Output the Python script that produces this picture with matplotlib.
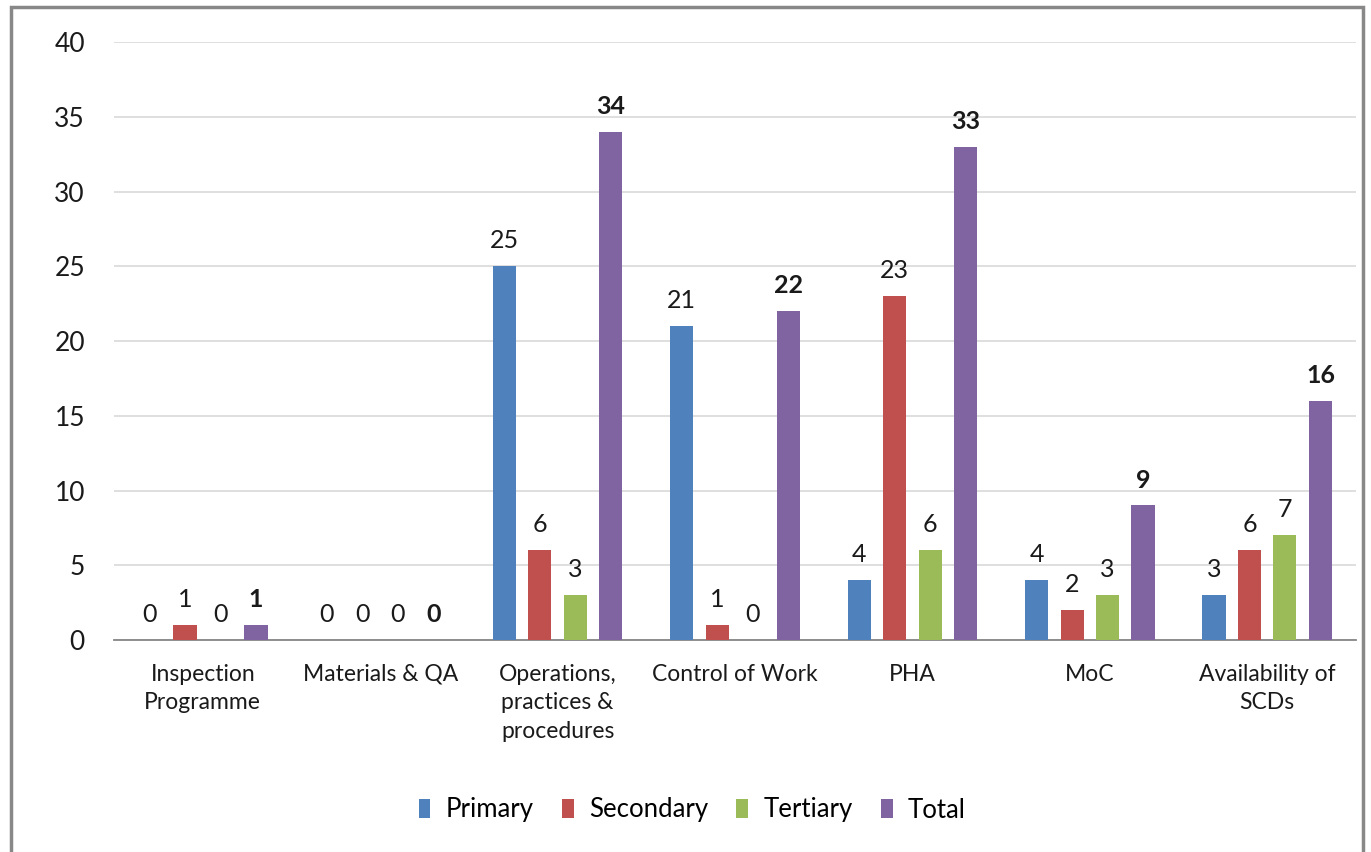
import matplotlib
matplotlib.use("Agg")
import matplotlib.pyplot as plt
import numpy as np
from matplotlib.patches import Rectangle

categories = [
    "Inspection\nProgramme",
    "Materials & QA",
    "Operations,\npractices &\nprocedures",
    "Control of Work",
    "PHA",
    "MoC",
    "Availability of\nSCDs",
]
series_names = ["Primary", "Secondary", "Tertiary", "Total"]
primary = [0, 0, 25, 21, 4, 4, 3]
secondary = [1, 0, 6, 1, 23, 2, 6]
tertiary = [0, 0, 3, 0, 6, 3, 7]
total = [1, 0, 34, 22, 33, 9, 16]
colors = ["#4F81BD", "#C0504D", "#9BBB59", "#8064A2"]

plt.rcParams["font.family"] = ["Lato", "DejaVu Sans"]

fig = plt.figure(figsize=(13.71, 8.52), dpi=100)
ax = fig.add_axes([0.0832, 0.2488, 0.9058, 0.7019])

x = np.arange(len(categories))
width = 0.13
offsets = [-0.3, -0.1, 0.1, 0.3]
for i, (name, vals) in enumerate(zip(series_names, [primary, secondary, tertiary, total])):
    bars = ax.bar(x + offsets[i], vals, width, color=colors[i], label=name, zorder=3)
    ax.bar_label(bars, labels=[str(v) for v in vals], padding=10, fontsize=18,
                 color="#1a1a1a", fontweight="bold" if name == "Total" else "normal")

ax.set_xlim(-0.5, len(categories) - 0.5)
ax.set_ylim(0, 40)
ax.set_yticks(range(0, 41, 5))
ax.yaxis.grid(True, color="#D9D9D9", linewidth=1.2, zorder=0)
ax.tick_params(axis="y", length=0, labelsize=19, pad=21, labelcolor="#1a1a1a")
ax.tick_params(axis="x", length=0, labelsize=16.5, pad=17, labelcolor="#1a1a1a")
ax.set_xticks(x)
ax.set_xticklabels(categories, linespacing=1.45)
for side in ["top", "right", "left"]:
    ax.spines[side].set_visible(False)
ax.spines["bottom"].set_color("#868686")
ax.spines["bottom"].set_linewidth(1.3)

fig.legend(loc="center", bbox_to_anchor=(0.505, 1 - 810 / 852), ncol=4, frameon=False,
           fontsize=18.5, handlelength=0.45, handleheight=0.8, handletextpad=0.6,
           columnspacing=1.1)

# outer chart frame, open at the bottom edge
fig.patches.append(Rectangle((11 / 1371, -0.05), (1363 - 11) / 1371, 1.05 - 7 / 852,
                             transform=fig.transFigure, fill=False,
                             edgecolor="#888888", linewidth=2.5))

fig.savefig("out.png", dpi=100)
